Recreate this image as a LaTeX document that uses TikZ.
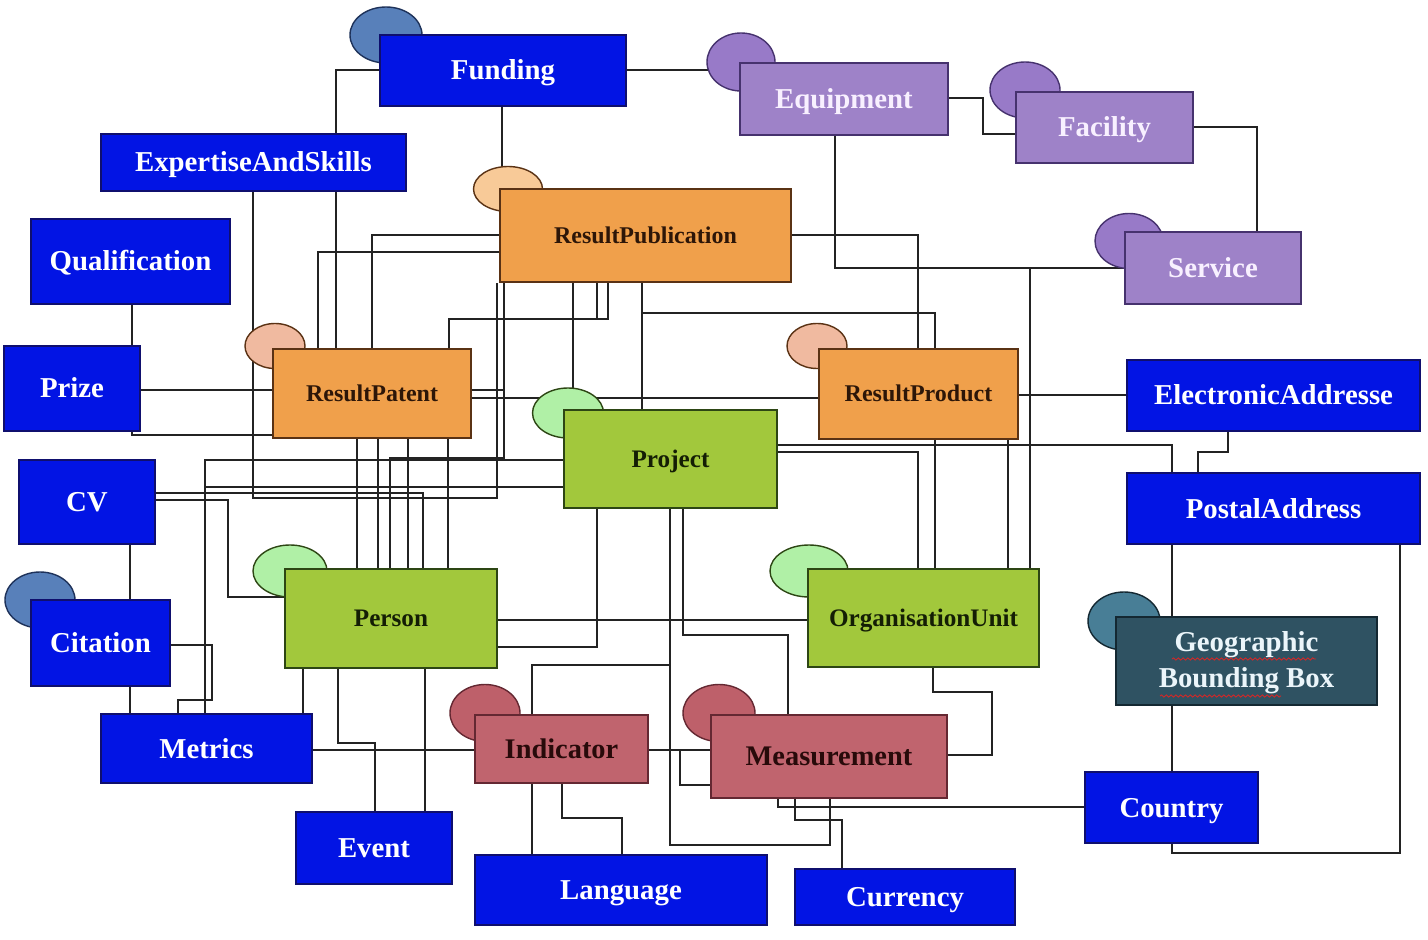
\documentclass[tikz,border=0pt]{standalone}
\usepackage{fontspec}
\setmainfont{Liberation Serif}
\usetikzlibrary{shapes.geometric,decorations.pathmorphing}
\pgfdeclarelayer{bg}
\pgfsetlayers{bg,main}
\definecolor{blu}{RGB}{2,20,228}
\definecolor{bluD}{RGB}{15,15,110}
\definecolor{blue-ell}{RGB}{88,128,186}
\definecolor{pur}{RGB}{158,130,200}
\definecolor{purD}{RGB}{70,50,110}
\definecolor{purE}{RGB}{152,122,200}
\definecolor{ora}{RGB}{240,160,75}
\definecolor{oraD}{RGB}{90,50,20}
\definecolor{oraE1}{RGB}{248,202,152}
\definecolor{oraE2}{RGB}{240,186,160}
\definecolor{grn}{RGB}{162,200,60}
\definecolor{grnD}{RGB}{45,70,20}
\definecolor{grnE}{RGB}{176,240,166}
\definecolor{red-box}{RGB}{192,100,110}
\definecolor{redD}{RGB}{100,40,50}
\definecolor{redE}{RGB}{190,96,106}
\definecolor{geo}{RGB}{47,82,98}
\definecolor{geoE}{RGB}{72,126,150}
\definecolor{lin}{RGB}{35,35,35}
\definecolor{darktext}{RGB}{45,22,8}
\newcommand\mkbox[7]{%
  \pgfmathsetmacro\mybw{(#5-#3)*0.5}%
  \pgfmathsetmacro\mybh{(#6-#4)*0.5}%
  \pgfmathsetmacro\mybx{(#3+#5)/2}%
  \pgfmathsetmacro\myby{(#4+#6)/2}%
  \node[#2, minimum width=\mybw pt, minimum height=\mybh pt] (#1) at (\mybx,\myby) {#7};}
\newcommand\mkell[6]{%
  \pgfmathsetmacro\myew{#5*0.5}%
  \pgfmathsetmacro\myeh{#6*0.5}%
  \node[#2, minimum width=\myew pt, minimum height=\myeh pt] (#1) at (#3,#4) {};}
\tikzset{
  box/.style={rectangle, line width=0.75pt, inner sep=0pt, text depth=0pt},
  bluebox/.style={box, fill=blu, draw=bluD, text=white, text height=9.5pt, font=\fontsize{14.4}{17}\selectfont\bfseries},
  purbox/.style={box, fill=pur, draw=purD, text={rgb,255:red,248;green,240;blue,255}, text height=9.5pt, font=\fontsize{14.4}{17}\selectfont\bfseries},
  orabox/.style={box, fill=ora, draw=oraD, text=darktext, text height=7.9pt, font=\fontsize{12}{14}\selectfont\bfseries},
  grnbox/.style={box, fill=grn, draw=grnD, text={rgb,255:red,20;green,30;blue,5}, text height=8.3pt, font=\fontsize{12.6}{15}\selectfont\bfseries},
  redbox/.style={box, fill=red-box, draw=redD, text={rgb,255:red,40;green,10;blue,10}, text height=9.4pt, font=\fontsize{14.2}{17}\selectfont\bfseries},
  geobox/.style={rectangle, line width=0.75pt, inner sep=0pt, fill=geo, draw={rgb,255:red,20;green,40;blue,50}, text={rgb,255:red,235;green,245;blue,250}, align=center, font=\fontsize{14.4}{18}\selectfont\bfseries},
  ell/.style={ellipse, line width=0.7pt, inner sep=0pt},
  bluell/.style={ell, fill=blue-ell, draw={rgb,255:red,30;green,50;blue,90}},
  purell/.style={ell, fill=purE, draw=purD},
  orell1/.style={ell, fill=oraE1, draw=oraD},
  orell2/.style={ell, fill=oraE2, draw=oraD},
  grell/.style={ell, fill=grnE, draw=grnD},
  rdell/.style={ell, fill=redE, draw=redD},
  geoell/.style={ell, fill=geoE, draw={rgb,255:red,20;green,40;blue,50}},
  conn/.style={draw=lin, line width=0.8pt, line join=miter},
  squig/.style={draw={rgb,255:red,210;green,40;blue,40}, line width=0.45pt, decorate, decoration={snake, amplitude=0.55pt, segment length=2.4pt}}
}
\begin{document}
\begin{tikzpicture}[x=0.5pt,y=-0.5pt]
\useasboundingbox (0,0) rectangle (1428,940);
% ellipses
\mkell{Funding-e}{bluell}{386}{35}{72}{56}
\mkell{Equipment-e}{purell}{741}{62}{68}{58}
\mkell{Facility-e}{purell}{1025}{90}{70}{56}
\mkell{Service-e}{purell}{1129}{241}{68}{55}
\mkell{RP-e}{orell1}{508}{189}{69}{45}
\mkell{ResultPatent-e}{orell2}{275}{346}{60}{45}
\mkell{ResultProduct-e}{orell2}{817}{346}{60}{45}
\mkell{Project-e}{grell}{568}{413}{71}{50}
\mkell{Person-e}{grell}{290}{571}{74}{52}
\mkell{OrgUnit-e}{grell}{809}{571}{78}{52}
\mkell{Indicator-e}{rdell}{485}{713}{70}{57}
\mkell{Measurement-e}{rdell}{719}{713}{72}{57}
\mkell{Citation-e}{bluell}{40}{600}{70}{56}
\mkell{GeoBB-e}{geoell}{1124}{621}{72}{58}
% boxes
\mkbox{Funding}{bluebox}{380}{35}{626}{106}{Funding}
\mkbox{Equipment}{purbox}{740}{63}{948}{135}{Equipment}
\mkbox{Facility}{purbox}{1016}{92}{1193}{163}{Facility}
\mkbox{Service}{purbox}{1125}{232}{1301}{304}{Service}
\mkbox{ExpertiseAndSkills}{bluebox}{101}{134}{406}{191}{ExpertiseAndSkills}
\mkbox{Qualification}{bluebox}{31}{219}{230}{304}{Qualification}
\mkbox{Prize}{bluebox}{4}{346}{140}{431}{Prize}
\mkbox{CV}{bluebox}{19}{460}{155}{544}{CV}
\mkbox{Citation}{bluebox}{31}{600}{170}{686}{Citation}
\mkbox{Metrics}{bluebox}{101}{714}{312}{783}{Metrics}
\mkbox{Event}{bluebox}{296}{812}{452}{884}{Event}
\mkbox{Person}{grnbox}{285}{569}{497}{668}{Person}
\mkbox{ResultPatent}{orabox}{273}{349}{471}{438}{ResultPatent}
\mkbox{RP}{orabox}{500}{189}{791}{282}{ResultPublication}
\mkbox{Project}{grnbox}{564}{410}{777}{508}{Project}
\mkbox{ResultProduct}{orabox}{819}{349}{1018}{439}{ResultProduct}
\mkbox{OrgUnit}{grnbox}{808}{569}{1039}{667}{OrganisationUnit}
\mkbox{Indicator}{redbox}{475}{715}{648}{783}{Indicator}
\mkbox{Measurement}{redbox}{711}{715}{947}{798}{Measurement}
\mkbox{Language}{bluebox}{475}{855}{767}{925}{Language}
\mkbox{Currency}{bluebox}{795}{869}{1015}{925}{Currency}
\mkbox{ElectronicAddresse}{bluebox}{1127}{360}{1420}{431}{ElectronicAddresse}
\mkbox{PostalAddress}{bluebox}{1127}{473}{1420}{544}{PostalAddress}
\mkbox{GeoBB}{geobox}{1116}{617}{1377}{705}{\rule{0pt}{12pt}Geographic\\Bounding Box}
\mkbox{Country}{bluebox}{1085}{772}{1258}{843}{Country}
% spelling squiggles
\draw[squig] (1172,659) -- (1316,659);
\draw[squig] (1160,696) -- (1281,696);
\begin{pgfonlayer}{bg}
\fill[white] (0,0) rectangle (1428,940);
\draw[conn] (Funding.west|-0,70) -- (336,70) -- (ResultPatent.north-|336,0);
\draw[conn] (Funding.south-|502,0) -- (RP.north-|502,0);
\draw[conn] (Funding.east|-0,70) -- (Equipment.west|-0,70);
\draw[conn] (Equipment.east|-0,98) -- (983,98) -- (983,134) -- (Facility.west|-0,134);
\draw[conn] (Facility.east|-0,127) -- (1257,127) -- (Service.north-|1257,0);
\draw[conn] (Equipment.south-|835,0) -- (835,268) -- (Service.west|-0,268);
\draw[conn] (OrgUnit.north-|1030,0) -- (1030,268) -- (Service.west|-0,268);
\draw[conn] (ExpertiseAndSkills.south-|253,0) -- (253,498) -- (497,498) -- (RP.south-|497,0);
\draw[conn] (Qualification.south-|132,0) -- (Prize.north-|132,0);
\draw[conn] (Prize.east|-0,390) -- (ResultPatent.west|-0,390);
\draw[conn] (Prize.south-|132,0) -- (132,435) -- (ResultPatent.west|-0,435);
\draw[conn] (CV.south-|130,0) -- (Citation.north-|130,0);
\draw[conn] (Citation.south-|130,0) -- (Metrics.north-|130,0);
\draw[conn] (Citation.east|-0,645) -- (212,645) -- (212,700) -- (178,700) -- (Metrics.north-|178,0);
\draw[conn] (Metrics.north-|205,0) -- (205,460) -- (Project.west|-0,460);
\draw[conn] (Metrics.north-|205,0) -- (205,487) -- (Project.west|-0,487);
\draw[conn] (CV.east|-0,500) -- (228,500) -- (228,597) -- (Person.west|-0,597);
\draw[conn] (CV.east|-0,493) -- (423,493) -- (Person.north-|423,0);
\draw[conn] (RP.west|-0,235) -- (372,235) -- (ResultPatent.north-|372,0);
\draw[conn] (RP.west|-0,252) -- (318,252) -- (ResultPatent.north-|318,0);
\draw[conn] (ResultPatent.north-|449,0) -- (449,319) -- (608,319) -- (RP.south-|608,0);
\draw[conn] (RP.south-|597,0) -- (597,319) -- (449,319) -- (ResultPatent.north-|449,0);
\draw[conn] (ResultPatent.east|-0,390) -- (504,390) -- (RP.south-|504,0);
\draw[conn] (Person.north-|390,0) -- (390,458) -- (504,458) -- (RP.south-|504,0);
\draw[conn] (ResultPatent.east|-0,398) -- (ResultProduct.west|-0,398);
\draw[conn] (RP.south-|573,0) -- (573,398) -- (ResultProduct.west|-0,398);
\draw[conn] (RP.south-|642,0) -- (Project.north-|642,0);
\draw[conn] (RP.south-|642,0) -- (642,313) -- (935,313) -- (ResultProduct.north-|935,0);
\draw[conn] (RP.east|-0,235) -- (918,235) -- (ResultProduct.north-|918,0);
\foreach \xx in {357,378,408,448}
  \draw[conn] (ResultPatent.south-|\xx,0) -- (Person.north-|\xx,0);
\draw[conn] (ResultProduct.east|-0,395) -- (ElectronicAddresse.west|-0,395);
\draw[conn] (ResultProduct.south-|935,0) -- (OrgUnit.north-|935,0);
\draw[conn] (ResultProduct.south-|1008,0) -- (OrgUnit.north-|1008,0);
\draw[conn] (Project.east|-0,445) -- (1172,445) -- (PostalAddress.north-|1172,0);
\draw[conn] (Project.east|-0,452) -- (918,452) -- (OrgUnit.north-|918,0);
\draw[conn] (ElectronicAddresse.south-|1228,0) -- (1228,452) -- (1198,452) -- (PostalAddress.north-|1198,0);
\draw[conn] (PostalAddress.south-|1172,0) -- (GeoBB.north-|1172,0);
\draw[conn] (GeoBB.south-|1172,0) -- (Country.north-|1172,0);
\draw[conn] (Country.south-|1172,0) -- (1172,853) -- (1400,853) -- (PostalAddress.south-|1400,0);
\draw[conn] (Country.west|-0,807) -- (778,807) -- (Measurement.south-|778,0);
\draw[conn] (Measurement.south-|795,0) -- (795,820) -- (842,820) -- (Currency.north-|842,0);
\draw[conn] (Project.south-|670,0) -- (670,845) -- (830,845) -- (Measurement.south-|830,0);
\draw[conn] (Project.south-|597,0) -- (597,647) -- (Person.east|-0,647);
\draw[conn] (Project.south-|683,0) -- (683,635) -- (788,635) -- (Measurement.north-|788,0);
\draw[conn] (Person.east|-0,620) -- (OrgUnit.west|-0,620);
\draw[conn] (Project.south-|670,0) -- (670,665) -- (532,665) -- (Indicator.north-|532,0);
\draw[conn] (Metrics.east|-0,750) -- (Indicator.west|-0,750);
\draw[conn] (Indicator.east|-0,750) -- (Measurement.west|-0,750);
\draw[conn] (Indicator.east|-0,750) -- (680,750) -- (680,785) -- (Measurement.west|-0,785);
\draw[conn] (Indicator.south-|532,0) -- (Language.north-|532,0);
\draw[conn] (Indicator.south-|562,0) -- (562,818) -- (622,818) -- (Language.north-|622,0);
\draw[conn] (OrgUnit.south-|933,0) -- (933,692) -- (992,692) -- (992,755) -- (Measurement.east|-0,755);
\draw[conn] (Person.south-|303,0) -- (Metrics.north-|303,0);
\draw[conn] (Person.south-|338,0) -- (338,743) -- (375,743) -- (Event.north-|375,0);
\draw[conn] (Person.south-|425,0) -- (Event.north-|425,0);
\end{pgfonlayer}
\end{tikzpicture}
\end{document}
